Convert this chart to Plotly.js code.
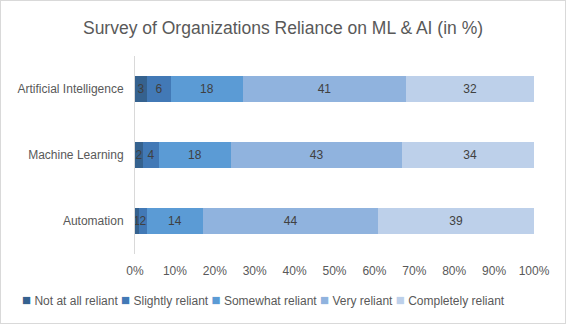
<!DOCTYPE html>
<html>
<head>
<meta charset="utf-8">
<script src="https://cdn.plot.ly/plotly-3.0.1.min.js"></script>
<style>
  html, body { margin: 0; padding: 0; background: #fff; }
  #wrap { position: relative; width: 566px; height: 324px; }
  #chart { width: 566px; height: 324px; }
  #frame { position: absolute; left: 0; top: 0; width: 564px; height: 322px; border: 1px solid #d9d9d9; pointer-events: none; }
</style>
</head>
<body>
<div id="wrap"><div id="chart"></div><div id="frame"></div></div>
<script>
const categories = ["Artificial Intelligence", "Machine Learning", "Automation"];
const seriesNames = ["Not at all reliant", "Slightly reliant", "Somewhat reliant", "Very reliant", "Completely reliant"];
const notAtAll   = [3, 2, 1];
const slightly   = [6, 4, 2];
const somewhat   = [18, 18, 14];
const very       = [41, 43, 44];
const completely = [32, 34, 39];
const seriesValues = [notAtAll, slightly, somewhat, very, completely];
const colors = ["#35628f", "#4279b6", "#5b9bd5", "#90b3de", "#bdd0ea"];

const FONT = 'Liberation Sans, Arial, sans-serif';

const traces = seriesValues.map((vals, i) => ({
  type: 'bar',
  orientation: 'h',
  name: seriesNames[i],
  y: categories,
  x: vals,
  text: vals.map(String),
  textposition: 'inside',
  insidetextanchor: 'middle',
  textfont: { family: FONT, size: 12, color: '#404040' },
  marker: { color: colors[i], line: { width: 0 } },
  hoverinfo: 'skip',
  showlegend: false
}));

// Legend built from the series names and colours (compact, single row like the reference)
const legendText = seriesNames.map((n, i) =>
  "<span style='color:" + colors[i] + ";font-size:15px'>■</span> " + n).join(" ");

const layout = {
  width: 566,
  height: 324,
  barmode: 'stack',
  bargap: 0.6,
  paper_bgcolor: '#ffffff',
  plot_bgcolor: '#ffffff',
  font: { family: FONT, size: 12, color: '#595959' },
  uniformtext: { minsize: 12, mode: 'show' },
  title: {
    text: 'Survey of Organizations Reliance on ML &amp; AI (in %)',
    font: { family: FONT, size: 17.5, color: '#595959' },
    x: 0.5, xanchor: 'center', y: 0.915, yanchor: 'middle'
  },
  margin: { l: 135, r: 32, t: 56, b: 70 },
  xaxis: {
    range: [0, 100],
    dtick: 10,
    tick0: 0,
    ticksuffix: '%',
    showgrid: false,
    zeroline: false,
    showline: false,
    ticks: '',
    ticklabelstandoff: 8,
    tickfont: { size: 12, color: '#595959' },
    fixedrange: true
  },
  yaxis: {
    type: 'category',
    autorange: 'reversed',
    showgrid: false,
    zeroline: false,
    showline: true,
    linecolor: '#d9d9d9',
    linewidth: 1,
    ticks: '',
    ticklabelstandoff: 8,
    tickfont: { size: 12, color: '#595959' },
    fixedrange: true
  },
  annotations: [{
    text: legendText,
    xref: 'paper', yref: 'paper',
    x: (263 - 135) / 399, xanchor: 'center',
    y: -45 / 198, yanchor: 'middle',
    showarrow: false,
    font: { family: FONT, size: 12, color: '#595959' }
  }],
  showlegend: false
};

Plotly.newPlot('chart', traces, layout, { displayModeBar: false, staticPlot: true });
</script>
</body>
</html>
